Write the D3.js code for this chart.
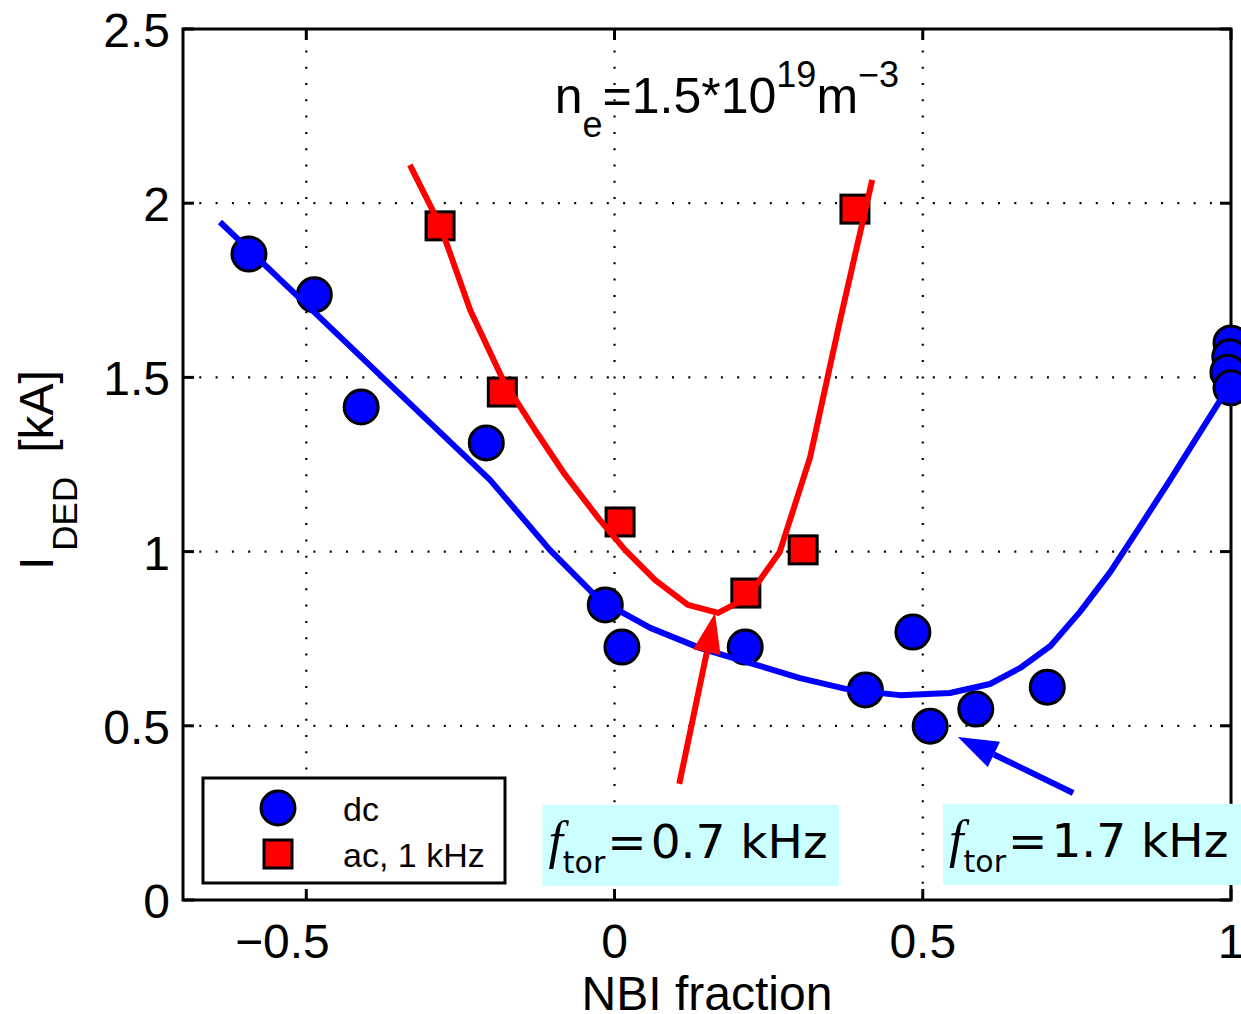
<!DOCTYPE html>
<html>
<head>
<meta charset="utf-8">
<script src="https://cdn.jsdelivr.net/npm/d3@7"></script>
<style>
  body { margin: 0; background: #fff; }
  text { font-family: "Liberation Sans", Arial, Helvetica, sans-serif; }
</style>
</head>
<body>
<div id="chart"></div>
<script>
// measured points, dc (blue circles)
var dcX = [-0.593, -0.487, -0.411, -0.208, -0.015, 0.012, 0.212, 0.407, 0.484, 0.512, 0.586, 0.702, 1.0, 0.998, 0.995, 1.0];
var dcY = [1.854, 1.737, 1.415, 1.312, 0.847, 0.726, 0.726, 0.603, 0.769, 0.499, 0.548, 0.611, 1.599, 1.559, 1.515, 1.470];

// measured points, ac 1 kHz (red squares)
var acX = [-0.283, -0.182, 0.009, 0.213, 0.306, 0.390];
var acY = [1.935, 1.458, 1.085, 0.881, 1.005, 1.983];

// fit curves
var dcFitX = [-0.640, -0.510, -0.348, -0.202, -0.105, -0.024, 0.058, 0.139, 0.220, 0.301, 0.382, 0.463, 0.544, 0.609, 0.658, 0.707, 0.755, 0.804, 0.852, 0.901, 0.950, 0.998];
var dcFitY = [1.946, 1.726, 1.452, 1.206, 1.005, 0.861, 0.781, 0.723, 0.680, 0.637, 0.603, 0.588, 0.594, 0.620, 0.666, 0.729, 0.827, 0.941, 1.071, 1.205, 1.343, 1.478];

var acFitX = [-0.332, -0.283, -0.234, -0.181, -0.129, -0.080, -0.024, 0.017, 0.066, 0.119, 0.168, 0.215, 0.268, 0.317, 0.366, 0.418];
var acFitY = [2.110, 1.937, 1.693, 1.493, 1.349, 1.220, 1.091, 1.005, 0.918, 0.847, 0.824, 0.867, 0.999, 1.269, 1.665, 2.067];

var xTicks = [-0.5, 0, 0.5, 1];
var yTicks = [0, 0.5, 1, 1.5, 2, 2.5];
var xTickLabels = ["\u22120.5", "0", "0.5", "1"];
var yTickLabels = ["0", "0.5", "1", "1.5", "2", "2.5"];

var legendNames = ["dc", "ac, 1 kHz"];

// annotation arrows [tailX, tailY, tipX, tipY] in data units
var arrowRed = [0.105, 0.333, 0.163, 0.824];
var arrowBlue = [0.744, 0.307, 0.557, 0.468];

var W = 1241, H = 1014;
var pLeft = 183, pRight = 1231, pTop = 29, pBottom = 900;

var svg = d3.select("#chart").append("svg")
    .attr("width", W)
    .attr("height", H);

var x = d3.scaleLinear().domain([-0.7, 1]).range([pLeft, pRight]);
var y = d3.scaleLinear().domain([0, 2.5]).range([pBottom, pTop]);

// grid (dotted)
var grid = svg.append("g").attr("stroke", "#000").attr("stroke-width", 2.2)
    .attr("stroke-dasharray", "2,14.3");
grid.selectAll("line.gx")
    .data(xTicks.filter(function(d){ return d > -0.7 && d < 1; }))
    .enter().append("line")
    .attr("x1", function(d){ return x(d); })
    .attr("x2", function(d){ return x(d); })
    .attr("y1", pBottom).attr("y2", pTop);
grid.selectAll("line.gy")
    .data(yTicks.filter(function(d){ return d > 0 && d < 2.5; }))
    .enter().append("line")
    .attr("y1", function(d){ return y(d); })
    .attr("y2", function(d){ return y(d); })
    .attr("x1", pLeft).attr("x2", pRight);

// frame + ticks
var frame = svg.append("g");
frame.append("rect")
    .attr("x", pLeft).attr("y", pTop)
    .attr("width", pRight - pLeft).attr("height", pBottom - pTop)
    .attr("fill", "none").attr("stroke", "#000").attr("stroke-width", 3);

var tk = 11;
xTicks.forEach(function(d){
    frame.append("line").attr("x1", x(d)).attr("x2", x(d)).attr("y1", pBottom).attr("y2", pBottom - tk)
        .attr("stroke", "#000").attr("stroke-width", 3);
    frame.append("line").attr("x1", x(d)).attr("x2", x(d)).attr("y1", pTop).attr("y2", pTop + tk)
        .attr("stroke", "#000").attr("stroke-width", 3);
});
yTicks.forEach(function(d){
    frame.append("line").attr("x1", pLeft).attr("x2", pLeft + tk).attr("y1", y(d)).attr("y2", y(d))
        .attr("stroke", "#000").attr("stroke-width", 3);
    frame.append("line").attr("x1", pRight).attr("x2", pRight - tk).attr("y1", y(d)).attr("y2", y(d))
        .attr("stroke", "#000").attr("stroke-width", 3);
});

svg.append("g").selectAll("text")
    .data(xTicks)
    .enter().append("text")
    .attr("x", function(d){ return x(d); })
    .attr("dx", function(d){ return d < 0 ? -24 : 0; })
    .attr("y", 958)
    .attr("text-anchor", "middle")
    .style("font-size", "48px")
    .text(function(d, i){ return xTickLabels[i]; });

svg.append("g").selectAll("text")
    .data(yTicks)
    .enter().append("text")
    .attr("x", 170)
    .attr("y", function(d){ return y(d) + 18; })
    .attr("text-anchor", "end")
    .style("font-size", "48px")
    .text(function(d, i){ return yTickLabels[i]; });

// axis titles
svg.append("text")
    .attr("x", (pLeft + pRight) / 2)
    .attr("y", 1010)
    .attr("text-anchor", "middle")
    .style("font-size", "48px")
    .text("NBI fraction");

var yl = svg.append("text")
    .attr("transform", "translate(53,570) rotate(-90)")
    .style("font-size", "48px");
yl.append("tspan").text("I");
yl.append("tspan").attr("dy", 24).attr("dx", 6).style("font-size", "35px").text("DED");
yl.append("tspan").attr("dy", -24).attr("dx", 24).text("[kA]");

// density label
var ne = svg.append("text")
    .attr("x", x(-0.097))
    .attr("y", y(2.259))
    .style("font-size", "50px");
ne.append("tspan").text("n");
ne.append("tspan").attr("dy", 24).style("font-size", "36px").text("e");
ne.append("tspan").attr("dy", -24).text("=1.5*10");
ne.append("tspan").attr("dy", -26).style("font-size", "36px").text("19");
ne.append("tspan").attr("dy", 26).text("m");
ne.append("tspan").attr("dy", -26).style("font-size", "36px").text("\u22123");

// markers
var dc = dcX.map(function(d, i){ return {x: d, y: dcY[i]}; });
var ac = acX.map(function(d, i){ return {x: d, y: acY[i]}; });

svg.append("g").selectAll("circle")
    .data(dc)
    .enter().append("circle")
    .attr("cx", function(d){ return x(d.x); })
    .attr("cy", function(d){ return y(d.y); })
    .attr("r", 17)
    .attr("fill", "#0000ff")
    .attr("stroke", "#000")
    .attr("stroke-width", 3);

svg.append("g").selectAll("rect")
    .data(ac)
    .enter().append("rect")
    .attr("x", function(d){ return x(d.x) - 14; })
    .attr("y", function(d){ return y(d.y) - 14; })
    .attr("width", 28).attr("height", 28)
    .attr("fill", "#ff0000")
    .attr("stroke", "#000")
    .attr("stroke-width", 3);

// fit lines
var line = d3.line()
    .x(function(d){ return x(d[0]); })
    .y(function(d){ return y(d[1]); });

svg.append("path")
    .attr("d", line(dcFitX.map(function(d, i){ return [d, dcFitY[i]]; })))
    .attr("fill", "none").attr("stroke", "#0000ff").attr("stroke-width", 6)
    .attr("stroke-linejoin", "round");

svg.append("path")
    .attr("d", line(acFitX.map(function(d, i){ return [d, acFitY[i]]; })))
    .attr("fill", "none").attr("stroke", "#ff0000").attr("stroke-width", 6)
    .attr("stroke-linejoin", "round");

// arrows
function arrow(a, col) {
    var x1 = x(a[0]), y1 = y(a[1]), x2 = x(a[2]), y2 = y(a[3]);
    var ang = Math.atan2(y2 - y1, x2 - x1);
    var hl = 40, hw = 14;
    var bx = x2 - hl * Math.cos(ang), by = y2 - hl * Math.sin(ang);
    svg.append("line")
        .attr("x1", x1).attr("y1", y1).attr("x2", bx).attr("y2", by)
        .attr("stroke", col).attr("stroke-width", 6);
    var px = -Math.sin(ang) * hw, py = Math.cos(ang) * hw;
    svg.append("path")
        .attr("d", "M" + x2 + "," + y2 + "L" + (bx + px) + "," + (by + py) + "L" + (bx - px) + "," + (by - py) + "Z")
        .attr("fill", col);
}
arrow(arrowRed, "#ff0000");
arrow(arrowBlue, "#0000ff");

// frequency labels
function fbox(x0, x1, y0, y1, val) {
    svg.append("rect")
        .attr("x", x(x0)).attr("y", y(y0))
        .attr("width", x(x1) - x(x0)).attr("height", y(y1) - y(y0))
        .attr("fill", "#ccffff");
    var t = svg.append("text")
        .attr("x", x(x0) + 6)
        .attr("y", y(y0) + 53)
        .style("font-family", "'DejaVu Sans', sans-serif");
    t.append("tspan").style("font-family", "'Liberation Serif', serif").style("font-style", "italic")
        .style("font-size", "52px").text("f");
    t.append("tspan").attr("dy", 15).style("font-size", "30px").text("tor");
    t.append("tspan").attr("dy", -15).attr("dx", 2).style("font-size", "47px").text("=");
    t.append("tspan").attr("dx", 4).style("font-size", "47px").text(val + " kHz");
}
fbox(-0.117, 0.364, 0.273, 0.040, "0.7");
fbox(0.533, 1.02, 0.276, 0.043, "1.7");

// legend
var lg = svg.append("g");
lg.append("rect")
    .attr("x", 203).attr("y", 778).attr("width", 302).attr("height", 105)
    .attr("fill", "#fff").attr("stroke", "#000").attr("stroke-width", 3);
lg.append("circle").attr("cx", 278).attr("cy", 808).attr("r", 17)
    .attr("fill", "#0000ff").attr("stroke", "#000").attr("stroke-width", 3);
lg.append("rect").attr("x", 264).attr("y", 840).attr("width", 28).attr("height", 28)
    .attr("fill", "#ff0000").attr("stroke", "#000").attr("stroke-width", 3);
lg.selectAll("text.lt")
    .data(legendNames)
    .enter().append("text")
    .attr("x", 343)
    .attr("y", function(d, i){ return 821 + i * 46; })
    .style("font-size", "34px")
    .text(function(d){ return d; });
</script>
</body>
</html>
